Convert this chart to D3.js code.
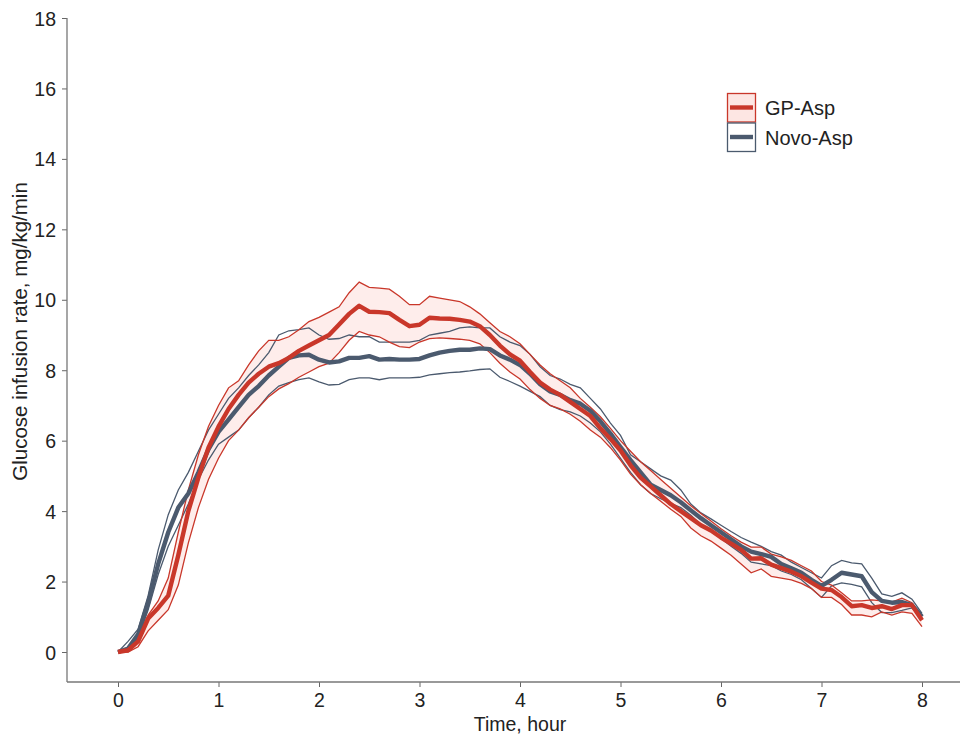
<!DOCTYPE html>
<html>
<head>
<meta charset="utf-8">
<script src="https://cdn.jsdelivr.net/npm/d3@7"></script>
<style>
  body { margin: 0; background: #fff; }
  svg { font-family: "Liberation Sans", Arial, sans-serif; }
  .tick text { font-size: 19.5px; fill: #222; }
  .tick line { stroke: #666; }
</style>
</head>
<body>
<div id="chart"></div>
<script>
// time grid, hours
var times = [0,0.1,0.2,0.3,0.4,0.5,0.6,0.7,0.8,0.9,
  1,1.1,1.2,1.3,1.4,1.5,1.6,1.7,1.8,1.9,
  2,2.1,2.2,2.3,2.4,2.5,2.6,2.7,2.8,2.9,
  3,3.1,3.2,3.3,3.4,3.5,3.6,3.7,3.8,3.9,
  4,4.1,4.2,4.3,4.4,4.5,4.6,4.7,4.8,4.9,
  5,5.1,5.2,5.3,5.4,5.5,5.6,5.7,5.8,5.9,
  6,6.1,6.2,6.3,6.4,6.5,6.6,6.7,6.8,6.9,
  7,7.1,7.2,7.3,7.4,7.5,7.6,7.7,7.8,7.9,8];

// GP-Asp : mean and band
var gpMean = [0,0.05,0.3,0.95,1.25,1.6,2.75,4.0,4.95,5.8,
  6.4,6.9,7.3,7.65,7.9,8.1,8.2,8.35,8.55,8.7,
  8.85,9.0,9.3,9.6,9.83,9.66,9.65,9.62,9.43,9.25,
  9.29,9.49,9.47,9.46,9.43,9.38,9.25,9.0,8.7,8.45,
  8.27,7.95,7.65,7.45,7.3,7.1,6.9,6.7,6.35,6.05,
  5.72,5.3,4.95,4.7,4.45,4.2,4.0,3.8,3.6,3.45,
  3.25,3.08,2.9,2.65,2.66,2.48,2.38,2.28,2.15,1.97,
  1.8,1.76,1.56,1.3,1.33,1.25,1.3,1.22,1.33,1.33,0.9];
var gpHi = [0,0.1,0.45,1.05,1.45,2.1,3.4,4.6,5.6,6.4,
  7.0,7.5,7.7,8.15,8.55,8.85,8.85,8.95,9.15,9.38,
  9.5,9.65,9.8,10.2,10.5,10.35,10.33,10.3,10.1,9.86,
  9.86,10.1,10.05,10.0,9.95,9.8,9.6,9.35,9.1,8.95,
  8.75,8.45,8.15,7.9,7.7,7.5,7.2,6.95,6.68,6.35,
  6.0,5.7,5.4,5.15,4.9,4.65,4.4,4.15,3.93,3.72,
  3.5,3.3,3.12,2.98,2.98,2.78,2.7,2.6,2.45,2.3,
  2.0,1.9,1.68,1.45,1.45,1.48,1.45,1.42,1.53,1.4,0.97];
var gpLo = [0,0,0.15,0.6,0.9,1.2,1.9,3.1,4.1,4.9,
  5.5,6.0,6.3,6.65,6.95,7.25,7.47,7.62,7.8,7.95,
  8.1,8.2,8.5,8.85,9.1,9.0,8.95,8.8,8.67,8.64,
  8.8,8.9,8.92,8.9,8.88,8.85,8.75,8.5,8.2,7.95,
  7.75,7.45,7.2,7.0,6.9,6.75,6.55,6.3,6.1,5.8,
  5.45,5.05,4.75,4.5,4.28,4.05,3.85,3.52,3.3,3.15,
  2.95,2.75,2.5,2.25,2.36,2.15,2.1,2.05,1.95,1.8,
  1.55,1.55,1.35,1.05,1.05,1.0,1.14,1.05,1.14,1.1,0.72];

// Novo-Asp : mean and band
var novoMean = [0,0.1,0.5,1.4,2.5,3.4,4.1,4.5,5.1,5.75,
  6.25,6.6,6.95,7.3,7.55,7.85,8.1,8.35,8.42,8.44,
  8.3,8.22,8.25,8.35,8.35,8.4,8.3,8.32,8.3,8.3,
  8.32,8.42,8.5,8.55,8.58,8.58,8.62,8.6,8.42,8.3,
  8.15,7.9,7.6,7.4,7.3,7.15,7.05,6.85,6.55,6.2,
  5.82,5.45,5.1,4.75,4.6,4.45,4.25,4.02,3.8,3.6,
  3.4,3.2,3.0,2.85,2.78,2.7,2.5,2.38,2.25,2.05,
  1.88,2.05,2.25,2.2,2.15,1.7,1.45,1.4,1.42,1.33,1.0];
var novoHi = [0,0.3,0.65,1.6,2.9,3.9,4.6,5.1,5.7,6.3,
  6.75,7.2,7.5,7.85,8.15,8.5,9.0,9.12,9.15,9.2,
  9.0,8.88,8.9,9.0,8.95,8.95,8.8,8.8,8.8,8.8,
  8.85,9.0,9.05,9.1,9.2,9.23,9.2,9.2,8.95,8.8,
  8.7,8.45,8.1,7.85,7.75,7.6,7.5,7.2,6.9,6.5,
  6.15,5.6,5.4,5.2,5.0,4.88,4.6,4.2,3.95,3.78,
  3.6,3.42,3.25,3.12,3.0,2.85,2.75,2.55,2.4,2.25,
  2.1,2.45,2.6,2.53,2.5,2.1,1.65,1.58,1.68,1.5,1.1];
var novoLo = [0,0.05,0.4,1.2,2.2,3.0,3.6,4.2,4.9,5.45,
  5.9,6.1,6.3,6.65,6.95,7.3,7.55,7.65,7.73,7.78,
  7.67,7.58,7.6,7.73,7.78,7.78,7.73,7.78,7.78,7.78,
  7.8,7.87,7.9,7.93,7.95,7.98,8.02,8.04,7.8,7.68,
  7.55,7.4,7.25,7.0,6.88,6.82,6.7,6.5,6.25,5.9,
  5.5,5.1,4.75,4.5,4.35,4.22,4.1,3.88,3.62,3.42,
  3.22,3.0,2.8,2.55,2.5,2.45,2.3,2.2,2.05,1.8,
  1.55,1.88,1.96,1.92,1.85,1.4,1.12,1.12,1.18,1.25,1.0];

var xTicks = [0,1,2,3,4,5,6,7,8];
var yTicks = [0,2,4,6,8,10,12,14,16,18];
var seriesNames = ["GP-Asp", "Novo-Asp"];

var RED = "#c9372a", BLUE = "#4b5a6e", PINK = "#fde6e3";

function DrawChart() {
  var width = 960, height = 734;
  var svg = d3.select("#chart").append("svg").attr("width", width).attr("height", height);

  var x = d3.scaleLinear().domain([0, 8]).range([118, 922]);
  var y = d3.scaleLinear().domain([0, 18]).range([652, 18]);
  var axisY = 682, axisX = 67;

  // axes
  var gx = svg.append("g").attr("transform", "translate(0," + axisY + ")")
    .call(d3.axisBottom(x).tickValues(xTicks).tickSize(5).tickPadding(6).tickFormat(d3.format("d")));
  gx.select(".domain").remove();
  var gy = svg.append("g").attr("transform", "translate(" + axisX + ",0)")
    .call(d3.axisLeft(y).tickValues(yTicks).tickSize(5).tickPadding(6).tickFormat(d3.format("d")));
  gy.select(".domain").remove();
  gy.selectAll(".tick text").attr("dy", "0.36em");

  svg.append("line").attr("x1", axisX).attr("x2", width).attr("y1", axisY).attr("y2", axisY)
    .attr("stroke", "#777").attr("stroke-width", 1.3);
  svg.append("line").attr("x1", axisX).attr("x2", axisX).attr("y1", y(18)).attr("y2", axisY)
    .attr("stroke", "#777").attr("stroke-width", 1.3);

  svg.append("text").attr("x", 520).attr("y", 731).attr("text-anchor", "middle")
    .style("font-size", "19.5px").attr("fill", "#222").text("Time, hour");
  svg.append("text").attr("transform", "translate(27," + y(9.1) + ") rotate(-90)")
    .attr("text-anchor", "middle").style("font-size", "20.5px").attr("fill", "#222")
    .text("Glucose infusion rate, mg/kg/min");

  var pts = times.map(function(t, i) { return i; });

  var area = function(lo, hi) {
    return d3.area().x(function(i) { return x(times[i]); })
      .y0(function(i) { return y(lo[i]); }).y1(function(i) { return y(hi[i]); });
  };
  var line = function(arr) {
    return d3.line().x(function(i) { return x(times[i]); }).y(function(i) { return y(arr[i]); });
  };

  // red ribbon fill
  svg.append("path").attr("d", area(gpLo, gpHi)(pts))
    .attr("fill", PINK).attr("fill-opacity", 0.7);

  // band outlines
  [novoLo, novoHi].forEach(function(arr) {
    svg.append("path").attr("d", line(arr)(pts)).attr("fill", "none")
      .attr("stroke", BLUE).attr("stroke-width", 1.3);
  });
  [gpLo, gpHi].forEach(function(arr) {
    svg.append("path").attr("d", line(arr)(pts)).attr("fill", "none")
      .attr("stroke", RED).attr("stroke-width", 1.3);
  });

  // means
  svg.append("path").attr("d", line(novoMean)(pts)).attr("fill", "none")
    .attr("stroke", BLUE).attr("stroke-width", 4.4).attr("stroke-linejoin", "round");
  svg.append("path").attr("d", line(gpMean)(pts)).attr("fill", "none")
    .attr("stroke", RED).attr("stroke-width", 4.4).attr("stroke-linejoin", "round");

  // legend
  var leg = svg.append("g").attr("transform", "translate(727,93)");
  seriesNames.forEach(function(name, k) {
    var col = k === 0 ? RED : BLUE;
    var g = leg.append("g").attr("transform", "translate(0," + (k * 29.5) + ")");
    g.append("rect").attr("x", 0.5).attr("y", 0.5).attr("width", 28).attr("height", 28.5)
      .attr("fill", k === 0 ? PINK : "#fff").attr("stroke", col).attr("stroke-width", 1.3);
    g.append("line").attr("x1", 3).attr("x2", 26).attr("y1", 14.5).attr("y2", 14.5)
      .attr("stroke", col).attr("stroke-width", 4.4);
    g.append("text").attr("x", 38).attr("y", 22).style("font-size", "20px")
      .attr("fill", "#222").text(name);
  });
}
DrawChart();
</script>
</body>
</html>
